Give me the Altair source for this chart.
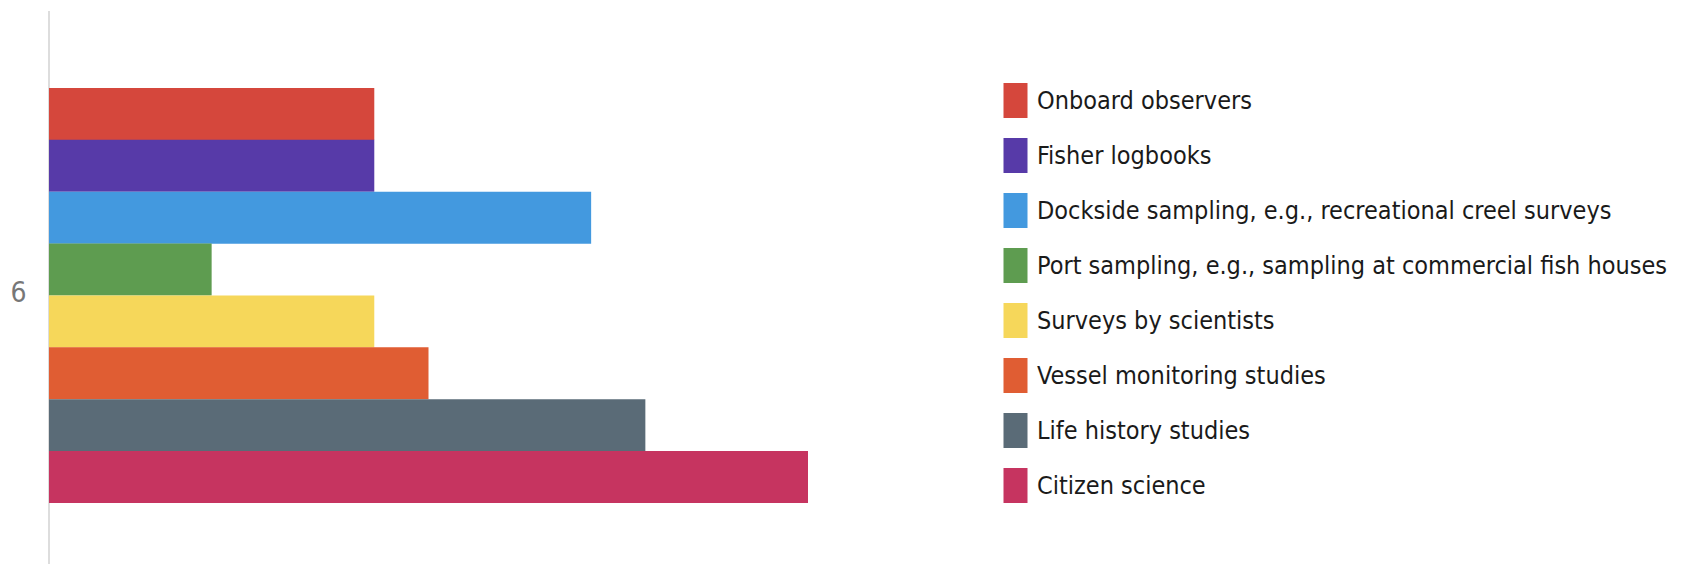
import altair as alt
import pandas as pd

sources = [
    "Onboard observers",
    "Fisher logbooks",
    "Dockside sampling, e.g., recreational creel surveys",
    "Port sampling, e.g., sampling at commercial fish houses",
    "Surveys by scientists",
    "Vessel monitoring studies",
    "Life history studies",
    "Citizen science",
]
values = [6, 6, 10, 3, 6, 7, 11, 14]
group = ["6"] * len(sources)
colors = ["#D5473C", "#573AA8", "#4399DF", "#5E9C50", "#F6D75A", "#E05D33", "#5A6B77", "#C63460"]

df = pd.DataFrame({"group": group, "source": sources, "value": values})

FONT = "'DejaVu Sans Condensed', 'Liberation Sans Narrow', Roboto, sans-serif"

bars = (
    alt.Chart(df)
    .mark_bar(size=52)
    .encode(
        x=alt.X("value:Q", scale=alt.Scale(domain=[0, 14], nice=False, zero=True), axis=None),
        y=alt.Y(
            "group:N",
            title=None,
            scale=alt.Scale(range=[77, 492], paddingInner=0, paddingOuter=0),
            axis=alt.Axis(
                ticks=False,
                domain=False,
                labelFont=FONT,
                labelFontSize=28,
                labelColor="#777777",
                labelPadding=23,
                labelOffset=-2,
                grid=False,
            ),
        ),
        yOffset=alt.YOffset(
            "source:N",
            sort=sources,
            scale=alt.Scale(paddingInner=0, paddingOuter=0),
        ),
        color=alt.Color(
            "source:N",
            sort=sources,
            scale=alt.Scale(domain=sources, range=colors),
            legend=alt.Legend(
                title=None,
                orient="none",
                legendX=954,
                legendY=77,
                symbolType="M-1,-1.46H1V1.46H-1Z",
                symbolSize=576,
                symbolStrokeWidth=0,
                symbolOpacity=1,
                labelFont=FONT,
                labelFontSize=25,
                labelColor="#1a1a1a",
                labelLimit=1000,
                labelOffset=9,
                rowPadding=18,
            ),
        ),
    )
)

axis_line = (
    alt.Chart(df)
    .mark_rule(color="#dddddd", strokeWidth=2)
    .encode(x=alt.value(0), y=alt.value(0), y2=alt.value(553))
)

chart = (
    alt.layer(axis_line, bars)
    .properties(
        width=759,
        height=553,
        padding={"left": 41, "top": 3, "right": 866, "bottom": 0},
        autosize=alt.AutoSizeParams(type="none"),
    )
    .configure_view(stroke=None)
)

chart.save("out.html", embed_options={"renderer": "svg", "actions": False})
